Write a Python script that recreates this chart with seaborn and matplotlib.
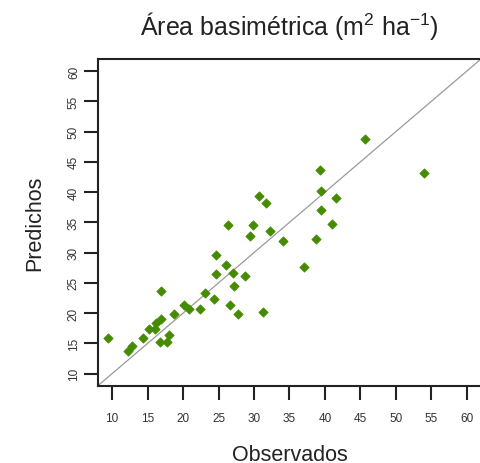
import matplotlib
matplotlib.use('Agg')
import matplotlib.pyplot as plt
import seaborn as sns
import pandas as pd

# Valores
observados = [9.4, 12.3, 12.8, 14.3, 15.25, 16.0, 16.2, 16.9, 16.7, 17.7, 18.0, 16.9,
              18.7, 20.1, 20.9, 22.35, 23.1, 24.3, 24.7, 24.7, 26.0, 27.1, 27.2, 26.6,
              27.8, 28.7, 31.2, 29.5, 32.2, 34.1, 30.7, 31.7, 26.3, 29.9, 45.7, 39.3,
              53.9, 39.5, 41.5, 39.5, 41.0, 38.8, 37.0]
predichos = [15.9, 13.8, 14.6, 15.9, 17.3, 17.3, 18.4, 19.0, 15.2, 15.2, 16.4, 23.6,
             19.85, 21.3, 20.7, 20.7, 23.3, 22.4, 29.6, 26.5, 27.9, 26.7, 24.4, 21.3,
             19.85, 26.1, 20.1, 32.8, 33.6, 31.9, 39.4, 38.2, 34.5, 34.5, 48.8, 43.7,
             43.1, 40.2, 39.1, 37.1, 34.75, 32.2, 27.6]
ticks = [10, 15, 20, 25, 30, 35, 40, 45, 50, 55, 60]

df = pd.DataFrame({'Observados': observados, 'Predichos': predichos})

sns.set_theme(style="white")
plt.rcParams['font.family'] = ['Liberation Sans', 'DejaVu Sans']
plt.rcParams['mathtext.fontset'] = 'custom'
plt.rcParams['mathtext.rm'] = 'Liberation Sans'
plt.rcParams['mathtext.it'] = 'Liberation Sans'

fig = plt.figure(figsize=(4.81, 4.64), dpi=100)
ax = fig.add_axes([0.2037, 0.1666, 0.7963, 0.7041])

# línea 1:1
ax.axline((0, 0), slope=1, color='#9a9a9a', linewidth=0.9, zorder=1)
sns.scatterplot(data=df, x='Observados', y='Predichos', marker='D', s=22,
                color='#458B00', edgecolor='#458B00', linewidth=0.6, ax=ax, zorder=2)

ax.set_xlim(8, 62)
ax.set_ylim(8, 62)
ax.set_xticks(ticks)
ax.set_yticks(ticks)
ax.tick_params(axis='both', direction='out', length=10, width=1.5, color='#222222',
               labelsize=8.5, labelcolor='#333333', bottom=True, left=True)
ax.tick_params(axis='x', pad=9)
ax.tick_params(axis='y', pad=3, labelrotation=90)
for lab in ax.get_yticklabels():
    lab.set_va('center')

for side in ['left', 'bottom', 'top']:
    ax.spines[side].set_color('#222222')
    ax.spines[side].set_linewidth(1.5)
ax.spines['right'].set_visible(False)

ax.set_xlabel('Observados', fontsize=15.5, labelpad=14, color='#222222')
ax.set_ylabel('Predichos', fontsize=15.5, labelpad=16, color='#222222')
ax.set_title('Área basimétrica (m$^2$ ha$^{-1}$)', fontsize=18, pad=18, color='#222222')

plt.savefig('out.png', dpi=100)
plt.close()
